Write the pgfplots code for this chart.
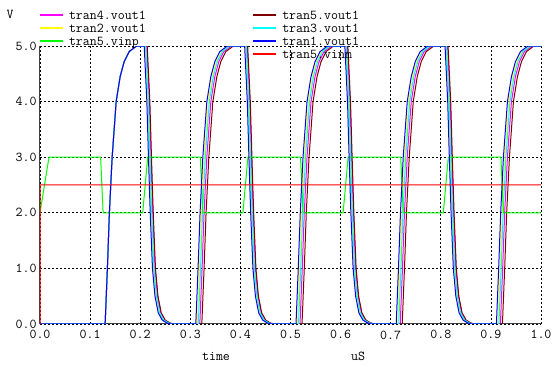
\documentclass[border=0pt]{standalone}
\usepackage{pgfplots}
\pgfplotsset{compat=1.18}
\usepackage{fontspec}
\setmainfont{lmmono12-regular.otf}
\definecolor{cMag}{RGB}{255,0,255}
\definecolor{cDRed}{RGB}{128,0,0}
\definecolor{cYel}{RGB}{255,255,0}
\definecolor{cCyan}{RGB}{0,255,255}
\definecolor{cGreen}{RGB}{0,255,0}
\definecolor{cBlue}{RGB}{0,0,255}
\definecolor{cRed}{RGB}{255,0,0}
\newcommand{\lsample}[1]{\textcolor{#1}{\rule[3.5bp]{23bp}{1.1bp}}\hspace{6bp}}
\begin{document}
\begin{tikzpicture}[font=\fontsize{13.6}{14}\selectfont]
\useasboundingbox (0,0) rectangle (554bp,367bp);
\begin{axis}[
  at={(40bp,43bp)}, anchor=south west,
  scale only axis, width=501bp, height=278bp,
  xmin=0, xmax=1, ymin=0, ymax=5,
  xtick={0,0.1,0.2,0.3,0.4,0.5,0.6,0.7,0.8,0.9,1.0},
  xticklabels={0.0,0.1,0.2,0.3,0.4,0.5,0.6,0.7,0.8,0.9,1.0},
  ytick={0,1,2,3,4,5},
  yticklabels={0.0,1.0,2.0,3.0,4.0,5.0},
  axis x line*=bottom, axis y line*=left,
  axis line style={-, black!75, line width=1bp},
  major tick length=0pt,
  grid=major,
  major grid style={black, dash pattern=on 2bp off 2bp, line width=0.8bp},
  xticklabel style={yshift=-3bp},
  clip=true,
  legend columns=2,
  legend cell align=left,
  legend image code/.code={},
  legend style={draw=none, fill=none, inner sep=0pt, outer sep=0pt,
    at={(axis description cs:0,1)}, anchor=north west, yshift=35bp,
    row sep=3bp,
    nodes={inner sep=0pt, text height=8bp, text depth=2bp},
    /tikz/every odd column/.append style={column sep=0bp},
    /tikz/every even column/.append style={column sep=107.5bp}},
  every axis plot/.append style={line width=1bp},
]
\addplot[cMag] coordinates {
(0,0)
(0.130,0)(0.1345,1)(0.1385,2)(0.144,3)(0.152,4)(0.160,4.45)(0.168,4.72)(0.178,4.9)(0.193,5)
(0.213,5)(0.2183,4)(0.2215,3)(0.225,2)(0.2295,1)(0.2345,0.5)(0.241,0.2)(0.249,0.07)(0.258,0.02)(0.266,0)
(0.319,0)(0.3235,1)(0.3275,2)(0.333,3)(0.341,4)(0.349,4.45)(0.357,4.72)(0.367,4.9)(0.382,5)
(0.4135,5)(0.4188,4)(0.422,3)(0.4255,2)(0.430,1)(0.435,0.5)(0.4415,0.2)(0.4495,0.07)(0.4585,0.02)(0.4665,0)
(0.519,0)(0.5235,1)(0.5275,2)(0.533,3)(0.541,4)(0.549,4.45)(0.557,4.72)(0.567,4.9)(0.582,5)
(0.6135,5)(0.6188,4)(0.622,3)(0.6255,2)(0.630,1)(0.635,0.5)(0.6415,0.2)(0.6495,0.07)(0.6585,0.02)(0.6665,0)
(0.719,0)(0.7235,1)(0.7275,2)(0.733,3)(0.741,4)(0.749,4.45)(0.757,4.72)(0.767,4.9)(0.782,5)
(0.8135,5)(0.8188,4)(0.822,3)(0.8255,2)(0.830,1)(0.835,0.5)(0.8415,0.2)(0.8495,0.07)(0.8585,0.02)(0.8665,0)
(0.919,0)(0.9235,1)(0.9275,2)(0.933,3)(0.941,4)(0.949,4.45)(0.957,4.72)(0.967,4.9)(0.982,5)
(1,5)};
\addlegendentry{\lsample{cMag}tran4.vout1}
\addplot[cDRed] coordinates {
(0,0)
(0.130,0)(0.1345,1)(0.1385,2)(0.144,3)(0.152,4)(0.160,4.45)(0.168,4.72)(0.178,4.9)(0.193,5)
(0.214,5)(0.2193,4)(0.2225,3)(0.226,2)(0.2305,1)(0.2355,0.5)(0.242,0.2)(0.250,0.07)(0.259,0.02)(0.267,0)
(0.323,0)(0.3275,1)(0.3315,2)(0.337,3)(0.345,4)(0.353,4.45)(0.361,4.72)(0.371,4.9)(0.386,5)
(0.4145,5)(0.4198,4)(0.423,3)(0.4265,2)(0.431,1)(0.436,0.5)(0.4425,0.2)(0.4505,0.07)(0.4595,0.02)(0.4675,0)
(0.523,0)(0.5275,1)(0.5315,2)(0.537,3)(0.545,4)(0.553,4.45)(0.561,4.72)(0.571,4.9)(0.586,5)
(0.6145,5)(0.6198,4)(0.623,3)(0.6265,2)(0.631,1)(0.636,0.5)(0.6425,0.2)(0.6505,0.07)(0.6595,0.02)(0.6675,0)
(0.723,0)(0.7275,1)(0.7315,2)(0.737,3)(0.745,4)(0.753,4.45)(0.761,4.72)(0.771,4.9)(0.786,5)
(0.8145,5)(0.8198,4)(0.823,3)(0.8265,2)(0.831,1)(0.836,0.5)(0.8425,0.2)(0.8505,0.07)(0.8595,0.02)(0.8675,0)
(0.923,0)(0.9275,1)(0.9315,2)(0.937,3)(0.945,4)(0.953,4.45)(0.961,4.72)(0.971,4.9)(0.986,5)
(1,5)};
\addlegendentry{\lsample{cDRed}tran5.vout1}
\addplot[cYel] coordinates {
(0,0)
(0.130,0)(0.1345,1)(0.1385,2)(0.144,3)(0.152,4)(0.160,4.45)(0.168,4.72)(0.178,4.9)(0.193,5)
(0.210,5)(0.2153,4)(0.2185,3)(0.222,2)(0.2265,1)(0.2315,0.5)(0.238,0.2)(0.246,0.07)(0.255,0.02)(0.263,0)
(0.314,0)(0.3185,1)(0.3225,2)(0.328,3)(0.336,4)(0.344,4.45)(0.352,4.72)(0.362,4.9)(0.377,5)
(0.4105,5)(0.4158,4)(0.419,3)(0.4225,2)(0.427,1)(0.432,0.5)(0.4385,0.2)(0.4465,0.07)(0.4555,0.02)(0.4635,0)
(0.514,0)(0.5185,1)(0.5225,2)(0.528,3)(0.536,4)(0.544,4.45)(0.552,4.72)(0.562,4.9)(0.577,5)
(0.6105,5)(0.6158,4)(0.619,3)(0.6225,2)(0.627,1)(0.632,0.5)(0.6385,0.2)(0.6465,0.07)(0.6555,0.02)(0.6635,0)
(0.714,0)(0.7185,1)(0.7225,2)(0.728,3)(0.736,4)(0.744,4.45)(0.752,4.72)(0.762,4.9)(0.777,5)
(0.8105,5)(0.8158,4)(0.819,3)(0.8225,2)(0.827,1)(0.832,0.5)(0.8385,0.2)(0.8465,0.07)(0.8555,0.02)(0.8635,0)
(0.914,0)(0.9185,1)(0.9225,2)(0.928,3)(0.936,4)(0.944,4.45)(0.952,4.72)(0.962,4.9)(0.977,5)
(1,5)};
\addlegendentry{\lsample{cYel}tran2.vout1}
\addplot[cCyan] coordinates {
(0,0)
(0.130,0)(0.1345,1)(0.1385,2)(0.144,3)(0.152,4)(0.160,4.45)(0.168,4.72)(0.178,4.9)(0.193,5)
(0.211,5)(0.2163,4)(0.2195,3)(0.223,2)(0.2275,1)(0.2325,0.5)(0.239,0.2)(0.247,0.07)(0.256,0.02)(0.264,0)
(0.316,0)(0.3205,1)(0.3245,2)(0.330,3)(0.338,4)(0.346,4.45)(0.354,4.72)(0.364,4.9)(0.379,5)
(0.4115,5)(0.4168,4)(0.420,3)(0.4235,2)(0.428,1)(0.433,0.5)(0.4395,0.2)(0.4475,0.07)(0.4565,0.02)(0.4645,0)
(0.516,0)(0.5205,1)(0.5245,2)(0.530,3)(0.538,4)(0.546,4.45)(0.554,4.72)(0.564,4.9)(0.579,5)
(0.6115,5)(0.6168,4)(0.620,3)(0.6235,2)(0.628,1)(0.633,0.5)(0.6395,0.2)(0.6475,0.07)(0.6565,0.02)(0.6645,0)
(0.716,0)(0.7205,1)(0.7245,2)(0.730,3)(0.738,4)(0.746,4.45)(0.754,4.72)(0.764,4.9)(0.779,5)
(0.8115,5)(0.8168,4)(0.820,3)(0.8235,2)(0.828,1)(0.833,0.5)(0.8395,0.2)(0.8475,0.07)(0.8565,0.02)(0.8645,0)
(0.916,0)(0.9205,1)(0.9245,2)(0.930,3)(0.938,4)(0.946,4.45)(0.954,4.72)(0.964,4.9)(0.979,5)
(1,5)};
\addlegendentry{\lsample{cCyan}tran3.vout1}
\addplot[cGreen] coordinates {
(0,2)(0.018,3)(0.121,3)(0.126,2)(0.205,2)(0.215,3)(0.320,3)(0.325,2)(0.405,2)(0.415,3)
(0.520,3)(0.525,2)(0.605,2)(0.615,3)(0.720,3)(0.725,2)(0.805,2)(0.815,3)(0.920,3)(0.925,2)(1,2)};
\addlegendentry{\lsample{cGreen}tran5.vinp}
\addplot[cBlue] coordinates {
(0,0)
(0.130,0)(0.1345,1)(0.1385,2)(0.144,3)(0.152,4)(0.160,4.45)(0.168,4.72)(0.178,4.9)(0.193,5)
(0.208,5)(0.2133,4)(0.2165,3)(0.220,2)(0.2245,1)(0.2295,0.5)(0.236,0.2)(0.244,0.07)(0.253,0.02)(0.261,0)
(0.311,0)(0.3155,1)(0.3195,2)(0.325,3)(0.333,4)(0.341,4.45)(0.349,4.72)(0.359,4.9)(0.374,5)
(0.4085,5)(0.4138,4)(0.417,3)(0.4205,2)(0.425,1)(0.430,0.5)(0.4365,0.2)(0.4445,0.07)(0.4535,0.02)(0.4615,0)
(0.511,0)(0.5155,1)(0.5195,2)(0.525,3)(0.533,4)(0.541,4.45)(0.549,4.72)(0.559,4.9)(0.574,5)
(0.6085,5)(0.6138,4)(0.617,3)(0.6205,2)(0.625,1)(0.630,0.5)(0.6365,0.2)(0.6445,0.07)(0.6535,0.02)(0.6615,0)
(0.711,0)(0.7155,1)(0.7195,2)(0.725,3)(0.733,4)(0.741,4.45)(0.749,4.72)(0.759,4.9)(0.774,5)
(0.8085,5)(0.8138,4)(0.817,3)(0.8205,2)(0.825,1)(0.830,0.5)(0.8365,0.2)(0.8445,0.07)(0.8535,0.02)(0.8615,0)
(0.911,0)(0.9155,1)(0.9195,2)(0.925,3)(0.933,4)(0.941,4.45)(0.949,4.72)(0.959,4.9)(0.974,5)
(1,5)};
\addlegendentry{\lsample{cBlue}tran1.vout1}
\addplot[draw=none] coordinates {(0,2.5)(1,2.5)};
\addlegendentry{}
\addplot[cRed] coordinates {(0,0)(0.0005,2.5)(1,2.5)};
\addlegendentry{\lsample{cRed}tran5.vinm}
\end{axis}
\node at (10bp,353bp) {V};
\node at (216bp,11bp) {time};
\node at (358bp,11bp) {uS};
\end{tikzpicture}
\end{document}
